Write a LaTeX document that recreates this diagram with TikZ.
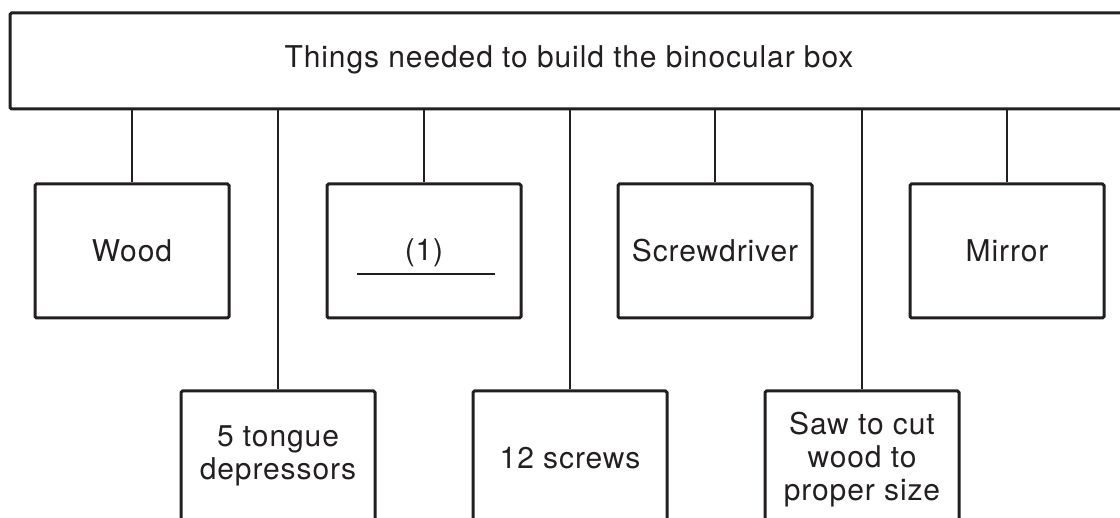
\documentclass[tikz,border=0pt]{standalone}
\usepackage{fontspec}
\setmainfont[LetterSpace=3]{TeX Gyre Heros}
\usetikzlibrary{calc}
\definecolor{ink}{HTML}{231F20}
\begin{document}
\begin{tikzpicture}[x=0.5pt,y=-0.5pt,
  box/.style={draw=ink,line width=1.5pt,rounded corners=0.8pt,minimum width=97pt,minimum height=67pt,inner sep=0pt},
  topbox/.style={draw=ink,line width=1.5pt,rounded corners=0.8pt,minimum width=565pt,minimum height=48pt,inner sep=0pt},
  lbl/.style={text=ink,font=\fontsize{15}{16.5}\selectfont,align=center,inner sep=0pt},
  conn/.style={draw=ink,line width=1pt},
  uline/.style={draw=ink,line width=1pt}]
\useasboundingbox (0,0) rectangle (1120,518);
\clip (0,0) rectangle (1120,518);
% top box
\node[topbox] (top) at (575,61) {};
\node[lbl] (toptext) at (569,60) {Things needed to build the binocular box};
% upper row boxes
\node[box] (wood) at (132,251) {};
\node[box] (one) at (424,251) {};
\node[box] (screwdriver) at (715,251) {};
\node[box] (mirror) at (1007,251) {};
% lower row boxes
\node[box] (tongue) at (278,458) {};
\node[box] (screws) at (570,458) {};
\node[box] (saw) at (862,458) {};
% labels
\node[lbl] at (wood.center) {Wood};
\node[lbl] (onetext) at (424,253) {(1)};
\node[lbl] at (screwdriver.center) {Screwdriver};
\node[lbl] at (mirror.center) {Mirror};
\node[lbl] at (278,456) {5 tongue\\depressors};
\node[lbl] at (570,458) {12 screws};
\node[lbl] at (862,460) {Saw to cut\\wood to\\proper size};
% blank line
\draw[uline] ($(one.center)+(-67,23)$) -- ($(one.center)+(71,23)$);
% connectors
\foreach \n in {wood,one,screwdriver,mirror,tongue,screws,saw}
  \draw[conn] (top.south -| \n.north) -- (\n.north);
\end{tikzpicture}
\end{document}
